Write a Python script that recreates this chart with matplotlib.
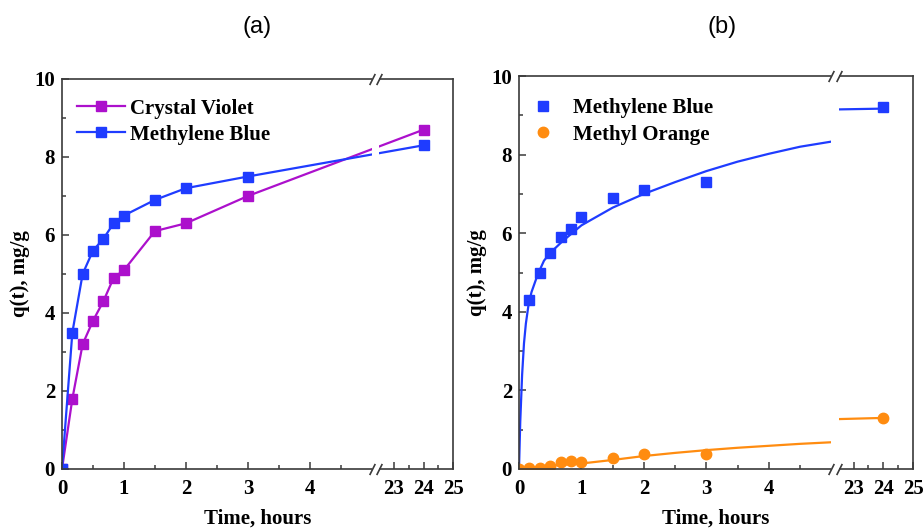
import matplotlib.pyplot as plt
import numpy as np

# panel (a): measured adsorption, hours vs mg/g
time_a = [0, 0.167, 0.333, 0.5, 0.667, 0.833, 1.0, 1.5, 2.0, 3.0, 24.0]
cv_a = [0, 1.8, 3.2, 3.8, 4.3, 4.9, 5.1, 6.1, 6.3, 7.0, 8.7]
mb_a = [0, 3.5, 5.0, 5.6, 5.9, 6.3, 6.5, 6.9, 7.2, 7.5, 8.3]

# panel (b): measured points
time_b_mb = [0.167, 0.333, 0.5, 0.667, 0.833, 1.0, 1.5, 2.0, 3.0, 24.0]
mb_b = [4.3, 5.0, 5.5, 5.9, 6.1, 6.4, 6.9, 7.1, 7.3, 9.2]
time_b_mo = [0, 0.167, 0.333, 0.5, 0.667, 0.833, 1.0, 1.5, 2.0, 3.0, 24.0]
mo_b = [0, 0.02, 0.02, 0.08, 0.19, 0.2, 0.17, 0.28, 0.38, 0.38, 1.3]

# panel (b): fitted curves
fit_t_mb = [0, 0.02, 0.05, 0.08, 0.11, 0.15, 0.2, 0.3, 0.4, 0.5, 0.7, 0.85, 1.0,
            1.5, 2.0, 2.5, 3.0, 3.5, 4.0, 4.5, 5.0]
fit_mb = [0, 1.2, 2.4, 3.2, 3.7, 4.15, 4.5, 4.95, 5.3, 5.5, 5.8, 6.0, 6.2,
          6.65, 7.0, 7.3, 7.58, 7.82, 8.02, 8.2, 8.33]
fit_t_mo = [0, 0.5, 1.0, 1.5, 2.0, 2.5, 3.0, 3.5, 4.0, 4.5, 5.0]
fit_mo = [0, 0.08, 0.14, 0.23, 0.33, 0.41, 0.48, 0.54, 0.59, 0.64, 0.68]
fit_t_tail = [22.5, 24.0]
fit_mb_tail = [9.15, 9.17]
fit_mo_tail = [1.27, 1.3]

x_ticks = [0, 1, 2, 3, 4, 23, 24, 25]
x_minor = [0.5, 1.5, 2.5, 3.5, 4.5, 23.5, 24.5]

purple = '#AC10CC'
blue = '#1F3CFF'
orange = '#FF8C10'
spine_col = '#3a3a3a'

# broken time axis: 0-5 h at full width, 22.5-25 h squeezed after the gap
gap_lo, gap_hi = 5.0, 22.5
gap_w = 0.12
slope_r = 0.476


def fwd(x):
    x = np.asarray(x, dtype=float)
    return np.where(x <= gap_lo, x,
                    np.where(x >= gap_hi, gap_lo + gap_w + (x - gap_hi) * slope_r,
                             gap_lo + (x - gap_lo) / (gap_hi - gap_lo) * gap_w))


def inv(y):
    y = np.asarray(y, dtype=float)
    return np.where(y <= gap_lo, y,
                    np.where(y >= gap_lo + gap_w, gap_hi + (y - gap_lo - gap_w) / slope_r,
                             gap_lo + (y - gap_lo) / gap_w * (gap_hi - gap_lo)))


plt.rcParams['font.family'] = 'Liberation Serif'
plt.rcParams['font.weight'] = 'bold'

fig = plt.figure(figsize=(9.24, 5.30), dpi=100)
ax_a = fig.add_axes([62 / 924, 61 / 530, 391 / 924, 390 / 530])
ax_b = fig.add_axes([519 / 924, 61 / 530, 394 / 924, 393 / 530])


def setup(ax):
    ax.set_xscale('function', functions=(fwd, inv))
    ax.set_xlim(0, 25)
    ax.set_ylim(0, 10)
    ax.set_xticks(x_ticks)
    ax.set_xticklabels([str(t) for t in x_ticks])
    ax.set_xticks(x_minor, minor=True)
    ax.set_yticks(np.arange(0, 11, 2))
    ax.set_yticks(np.arange(1, 10, 2), minor=True)
    ax.tick_params(which='both', direction='in', top=False, right=False,
                   color=spine_col, labelsize=15, width=1.1)
    ax.tick_params(which='major', length=5, pad=5)
    ax.tick_params(axis='x', which='major', pad=7)
    ax.tick_params(which='minor', length=3)
    for s in ax.spines.values():
        s.set_color(spine_col)
        s.set_linewidth(1.2)
    ax.set_xlabel('Time, hours', fontsize=15, fontweight='bold', labelpad=7)
    ax.set_ylabel('q(t), mg/g', fontsize=15, fontweight='bold', labelpad=3)


def add_break(ax):
    trans = ax.get_xaxis_transform()
    ax.add_patch(plt.Rectangle((gap_lo, -0.03), gap_hi - gap_lo, 1.06, transform=trans,
                               facecolor='white', edgecolor='none', clip_on=False, zorder=3))
    for yy in [0, 1]:
        ax.plot([gap_lo, gap_hi], [yy, yy], transform=trans, marker=[(-0.5, -1), (0.5, 1)],
                markersize=8, linestyle='none', color=spine_col, mew=1.2,
                clip_on=False, zorder=4)


setup(ax_a)
ax_a.plot(time_a, cv_a, color=purple, lw=1.6, marker='s', ms=6.5, label='Crystal Violet')
ax_a.plot(time_a, mb_a, color=blue, lw=1.6, marker='s', ms=6.5, label='Methylene Blue')
add_break(ax_a)
ax_a.legend(loc='upper left', bbox_to_anchor=(0.038, 0.95), frameon=False,
            borderpad=0, borderaxespad=0, handlelength=2.3, handletextpad=0.25,
            labelspacing=0.3, prop={'weight': 'bold', 'size': 15})

setup(ax_b)
ax_b.plot(fit_t_mb, fit_mb, color=blue, lw=1.6)
ax_b.plot(fit_t_tail, fit_mb_tail, color=blue, lw=1.6)
ax_b.plot(fit_t_mo, fit_mo, color=orange, lw=1.6)
ax_b.plot(fit_t_tail, fit_mo_tail, color=orange, lw=1.6)
ax_b.plot(time_b_mb, mb_b, linestyle='none', marker='s', ms=7, color=blue, label='Methylene Blue')
ax_b.plot(time_b_mo, mo_b, linestyle='none', marker='o', ms=7.5, color=orange, label='Methyl Orange')
add_break(ax_b)
ax_b.legend(loc='upper left', bbox_to_anchor=(0.013, 0.943), frameon=False,
            borderpad=0, borderaxespad=0, handlelength=1.8, handletextpad=0.53,
            labelspacing=0.3, numpoints=1, prop={'weight': 'bold', 'size': 15})

fig.text(257 / 924, 1 - 27 / 530, '(a)', ha='center', va='center', fontsize=17,
         fontweight='normal', family='Liberation Sans')
fig.text(722 / 924, 1 - 27 / 530, '(b)', ha='center', va='center', fontsize=17,
         fontweight='normal', family='Liberation Sans')

fig.savefig('out.png', dpi=100)
